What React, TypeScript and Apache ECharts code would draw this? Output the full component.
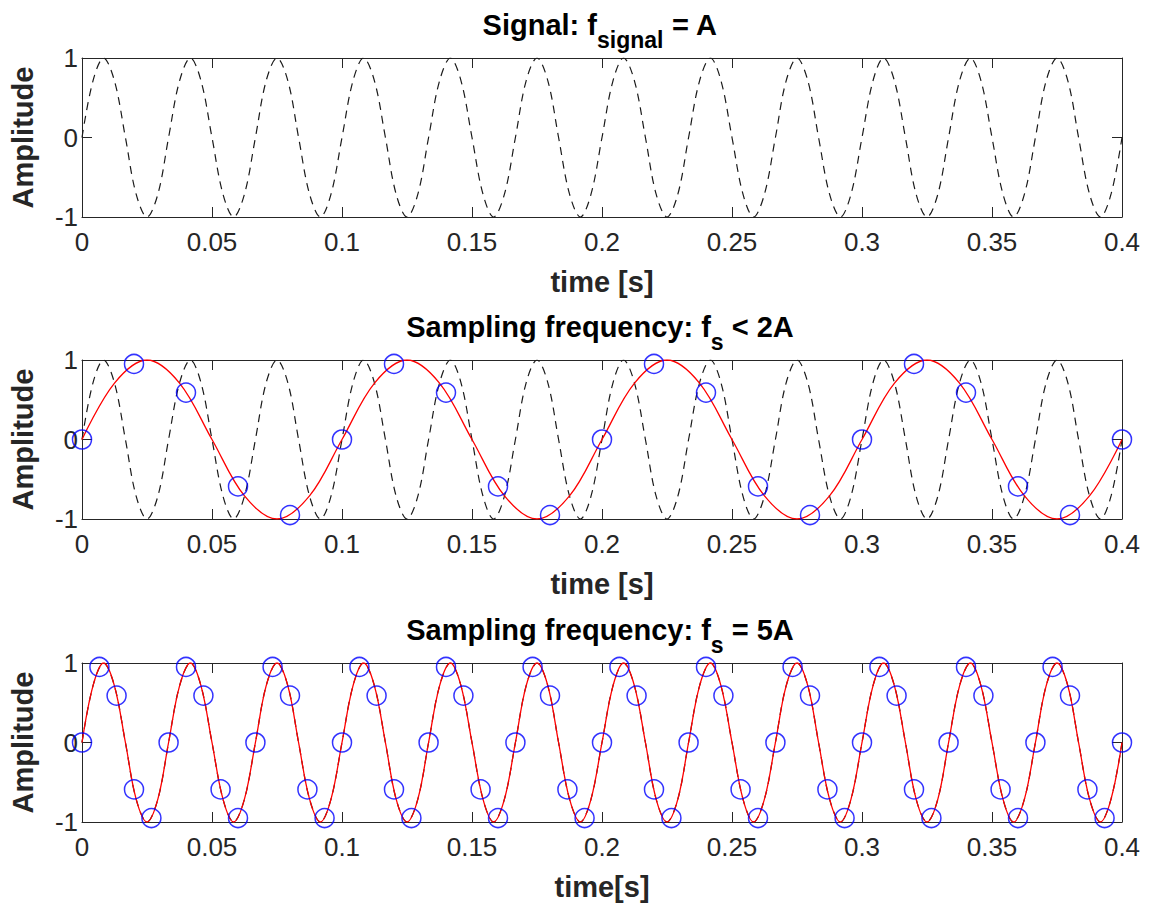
import React, { useEffect, useRef } from "react";
import * as echarts from "echarts";

// 30 Hz signal (f_signal = A): eighth-period key points
const signalT = [
  0, 0.0042, 0.0083, 0.0125, 0.0167, 0.0208, 0.025, 0.0292,
  0.0333, 0.0375, 0.0417, 0.0458, 0.05, 0.0542, 0.0583, 0.0625,
  0.0667, 0.0708, 0.075, 0.0792, 0.0833, 0.0875, 0.0917, 0.0958,
  0.1, 0.1042, 0.1083, 0.1125, 0.1167, 0.1208, 0.125, 0.1292,
  0.1333, 0.1375, 0.1417, 0.1458, 0.15, 0.1542, 0.1583, 0.1625,
  0.1667, 0.1708, 0.175, 0.1792, 0.1833, 0.1875, 0.1917, 0.1958,
  0.2, 0.2042, 0.2083, 0.2125, 0.2167, 0.2208, 0.225, 0.2292,
  0.2333, 0.2375, 0.2417, 0.2458, 0.25, 0.2542, 0.2583, 0.2625,
  0.2667, 0.2708, 0.275, 0.2792, 0.2833, 0.2875, 0.2917, 0.2958,
  0.3, 0.3042, 0.3083, 0.3125, 0.3167, 0.3208, 0.325, 0.3292,
  0.3333, 0.3375, 0.3417, 0.3458, 0.35, 0.3542, 0.3583, 0.3625,
  0.3667, 0.3708, 0.375, 0.3792, 0.3833, 0.3875, 0.3917, 0.3958,
  0.4,
];
const signalY = [
  0, 0.71, 1, 0.71, 0, -0.71, -1, -0.71,
  0, 0.71, 1, 0.71, 0, -0.71, -1, -0.71,
  0, 0.71, 1, 0.71, 0, -0.71, -1, -0.71,
  0, 0.71, 1, 0.71, 0, -0.71, -1, -0.71,
  0, 0.71, 1, 0.71, 0, -0.71, -1, -0.71,
  0, 0.71, 1, 0.71, 0, -0.71, -1, -0.71,
  0, 0.71, 1, 0.71, 0, -0.71, -1, -0.71,
  0, 0.71, 1, 0.71, 0, -0.71, -1, -0.71,
  0, 0.71, 1, 0.71, 0, -0.71, -1, -0.71,
  0, 0.71, 1, 0.71, 0, -0.71, -1, -0.71,
  0, 0.71, 1, 0.71, 0, -0.71, -1, -0.71,
  0, 0.71, 1, 0.71, 0, -0.71, -1, -0.71,
  0,
];

// Aliased (reconstructed) signal in the middle panel
const aliasT = [
  0, 0.0125, 0.025, 0.0375, 0.05, 0.0625, 0.075, 0.0875,
  0.1, 0.1125, 0.125, 0.1375, 0.15, 0.1625, 0.175, 0.1875,
  0.2, 0.2125, 0.225, 0.2375, 0.25, 0.2625, 0.275, 0.2875,
  0.3, 0.3125, 0.325, 0.3375, 0.35, 0.3625, 0.375, 0.3875,
  0.4,
];
const aliasY = [
  0, 0.71, 1, 0.71, 0, -0.71, -1, -0.71,
  0, 0.71, 1, 0.71, 0, -0.71, -1, -0.71,
  0, 0.71, 1, 0.71, 0, -0.71, -1, -0.71,
  0, 0.71, 1, 0.71, 0, -0.71, -1, -0.71,
  0,
];

// Samples, f_s < 2A
const slowSampleT = [0, 0.02, 0.04, 0.06, 0.08, 0.1, 0.12, 0.14, 0.16, 0.18, 0.2, 0.22, 0.24, 0.26, 0.28, 0.3, 0.32, 0.34, 0.36, 0.38, 0.4];
const slowSampleY = [0, 0.95, 0.59, -0.59, -0.95, 0, 0.95, 0.59, -0.59, -0.95, 0, 0.95, 0.59, -0.59, -0.95, 0, 0.95, 0.59, -0.59, -0.95, 0];

// Samples, f_s = 5A
const fastSampleT = [
  0, 0.0067, 0.0133, 0.02, 0.0267, 0.0333, 0.04, 0.0467, 0.0533, 0.06, 0.0667, 0.0733,
  0.08, 0.0867, 0.0933, 0.1, 0.1067, 0.1133, 0.12, 0.1267, 0.1333, 0.14, 0.1467, 0.1533,
  0.16, 0.1667, 0.1733, 0.18, 0.1867, 0.1933, 0.2, 0.2067, 0.2133, 0.22, 0.2267, 0.2333,
  0.24, 0.2467, 0.2533, 0.26, 0.2667, 0.2733, 0.28, 0.2867, 0.2933, 0.3, 0.3067, 0.3133,
  0.32, 0.3267, 0.3333, 0.34, 0.3467, 0.3533, 0.36, 0.3667, 0.3733, 0.38, 0.3867, 0.3933,
  0.4,
];
const fastSampleY = [
  0, 0.95, 0.59, -0.59, -0.95, 0, 0.95, 0.59, -0.59, -0.95, 0, 0.95,
  0.59, -0.59, -0.95, 0, 0.95, 0.59, -0.59, -0.95, 0, 0.95, 0.59, -0.59,
  -0.95, 0, 0.95, 0.59, -0.59, -0.95, 0, 0.95, 0.59, -0.59, -0.95, 0,
  0.95, 0.59, -0.59, -0.95, 0, 0.95, 0.59, -0.59, -0.95, 0, 0.95, 0.59,
  -0.59, -0.95, 0, 0.95, 0.59, -0.59, -0.95, 0, 0.95, 0.59, -0.59, -0.95,
  0,
];

const xNames = ["time [s]", "time [s]", "time[s]"];
const yName = "Amplitude";
const titles = [
  "{b|Signal: f}{s|signal}{b| = A}",
  "{b|Sampling frequency: f}{s|s}{b| < 2A}",
  "{b|Sampling frequency: f}{s|s}{b| = 5A}",
];

const FONT = "'Liberation Sans', Arial, Helvetica, sans-serif";
const AX = "#262626";

const pairs = (t: number[], y: number[]) => t.map((v, i) => [v, y[i]]);

export default function App() {
  const ref = useRef<HTMLDivElement>(null);
  useEffect(() => {
    if (!ref.current) return;
    const chart = echarts.init(ref.current, undefined, { renderer: "svg" });
    const tops = [58, 360, 663];
    const H = 159;
    const grids = tops.map((t) => ({ left: 78, width: 1044, top: t, height: H }));
    const xAxes: any[] = [];
    const yAxes: any[] = [];
    tops.forEach((_, i) => {
      xAxes.push({
        type: "value", gridIndex: i, position: "bottom", min: 0, max: 0.4, interval: 0.05,
        name: xNames[i], nameLocation: "middle", nameGap: 50,
        nameTextStyle: { fontSize: 29, fontWeight: "bold", color: AX, fontFamily: FONT },
        axisLine: { show: true, onZero: false, lineStyle: { color: AX, width: 1 } },
        axisTick: { show: true, inside: true, length: 10, lineStyle: { color: AX } },
        axisLabel: {
          show: true, fontSize: 26, color: AX, fontFamily: FONT, margin: 12,
          formatter: (v: number) => String(Math.round(v * 100) / 100),
        },
        splitLine: { show: false },
      });
      xAxes.push({
        type: "value", gridIndex: i, position: "top", min: 0, max: 0.4, interval: 0.05,
        axisLine: { show: true, onZero: false, lineStyle: { color: AX, width: 1 } },
        axisTick: { show: true, inside: true, length: 10, lineStyle: { color: AX } },
        axisLabel: { show: false },
        splitLine: { show: false },
      });
      yAxes.push({
        type: "value", gridIndex: i, position: "left", min: -1, max: 1, interval: 1,
        name: yName, nameLocation: "middle", nameGap: 45,
        nameTextStyle: { fontSize: 29, fontWeight: "bold", color: AX, fontFamily: FONT },
        axisLine: { show: true, onZero: false, lineStyle: { color: AX, width: 1 } },
        axisTick: { show: true, inside: true, length: 10, lineStyle: { color: AX } },
        axisLabel: { show: true, fontSize: 26, color: AX, fontFamily: FONT, margin: 4 },
        splitLine: { show: false },
      });
      yAxes.push({
        type: "value", gridIndex: i, position: "right", min: -1, max: 1, interval: 1,
        axisLine: { show: true, onZero: false, lineStyle: { color: AX, width: 1 } },
        axisTick: { show: true, inside: true, length: 10, lineStyle: { color: AX } },
        axisLabel: { show: false },
        splitLine: { show: false },
      });
    });

    const dashed = (i: number) => ({
      type: "line", xAxisIndex: 2 * i, yAxisIndex: 2 * i,
      data: pairs(signalT, signalY), smooth: 0.35, showSymbol: false, symbol: "none",
      lineStyle: { color: "#1a1a1a", width: 1.2, type: [8, 6] }, silent: true, z: 2,
    });
    const red = (i: number, t: number[], y: number[]) => ({
      type: "line", xAxisIndex: 2 * i, yAxisIndex: 2 * i,
      data: pairs(t, y), smooth: 0.35, showSymbol: false, symbol: "none",
      lineStyle: { color: "#ff0000", width: 1.3 }, silent: true, z: 3,
    });
    const circles = (i: number, t: number[], y: number[]) => ({
      type: "scatter", xAxisIndex: 2 * i, yAxisIndex: 2 * i,
      data: pairs(t, y), symbol: "circle", symbolSize: 19,
      itemStyle: { color: "rgba(0,0,0,0)", borderColor: "#0000ff", borderWidth: 1.5 },
      silent: true, z: 4, clip: false,
    });

    const titleTops = [10, 312, 615];
    const graphic = titles.map((txt, i) => ({
      type: "text", x: 600, y: titleTops[i], z: 10,
      style: {
        text: txt, align: "center", verticalAlign: "top",
        rich: {
          b: { fontSize: 29, fontWeight: "bold", fontFamily: FONT, fill: "#000", lineHeight: 29, verticalAlign: "top" },
          s: { fontSize: 23, fontWeight: "bold", fontFamily: FONT, fill: "#000", lineHeight: 23, verticalAlign: "top", padding: [18, 0, 0, 0] },
        },
      },
    }));

    chart.setOption({
      animation: false,
      backgroundColor: "#ffffff",
      grid: grids,
      xAxis: xAxes,
      yAxis: yAxes,
      graphic,
      series: [
        dashed(0),
        dashed(1),
        red(1, aliasT, aliasY),
        circles(1, slowSampleT, slowSampleY),
        dashed(2),
        red(2, signalT, signalY),
        circles(2, fastSampleT, fastSampleY),
      ],
    });
    return () => chart.dispose();
  }, []);
  return (
    <div
      ref={ref}
      style={{ position: "absolute", left: 0, top: 0, width: 1150, height: 906, background: "#fff" }}
    />
  );
}
